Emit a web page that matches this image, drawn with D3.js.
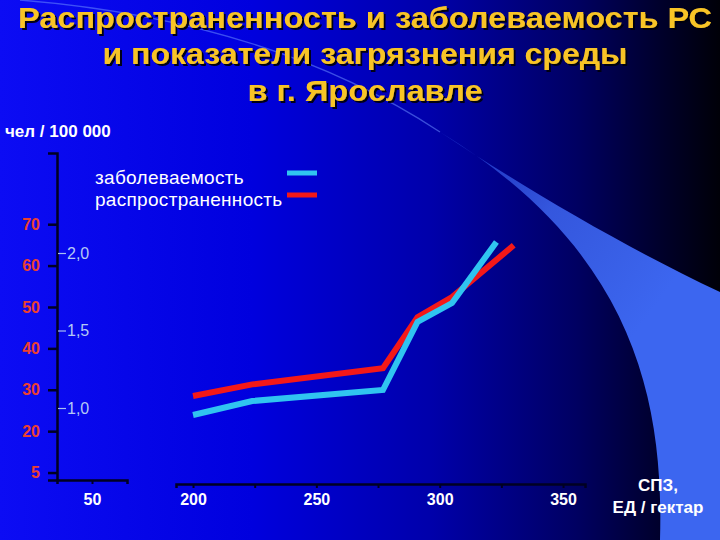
<!DOCTYPE html>
<html><head><meta charset="utf-8">
<script src="https://cdn.jsdelivr.net/npm/d3@7"></script>
<style>
html,body{margin:0;padding:0;background:#000;}
svg{display:block;font-family:Arial,"Liberation Sans",sans-serif;}
</style>
</head><body><svg id="c" width="720" height="540"></svg>
<script>
// ---- data ----
const titleLines = ["Распространенность и заболеваемость РС", "и показатели загрязнения среды", "в г. Ярославле"];
const yLeftTitle = "чел / 100 000";
const xTitle = ["СПЗ,", "ЕД / гектар"];
const seriesNames = ["заболеваемость", "распространенность"];
const yLeftTicks = [10, 20, 30, 40, 50, 60, 70];
const yLeftLabels = ["5", "20", "30", "40", "50", "60", "70"];
const yRightTicks = [1.0, 1.5, 2.0];
const xTicks = [200, 225, 250, 275, 300, 325, 350];
const xTickLabels = ["200", "", "250", "", "300", "", "350"];
const xBreakTicks = [50];
const spzPrevalence = [200, 224, 277, 291, 305, 330];
const prevalence = [28.5, 31.3, 35.2, 47.5, 52.4, 64.9];
const spzIncidence = [200, 224, 277, 291, 305, 323];
const incidence = [0.955, 1.045, 1.116, 1.555, 1.677, 2.071];

// ---- setup ----
const svg = d3.select("#c");
const defs = svg.append("defs");
const bg = defs.append("linearGradient").attr("id", "bg").attr("x1", 0).attr("x2", 1).attr("y1", 0).attr("y2", 0);
[[0, "#0c0cf4"], [0.35, "#0000de"], [0.6, "#0000aa"], [0.8, "#000062"], [0.92, "#00002a"], [1, "#000008"]]
  .forEach(([o, c]) => bg.append("stop").attr("offset", o).attr("stop-color", c));
const sw = defs.append("linearGradient").attr("id", "sw").attr("gradientUnits", "userSpaceOnUse")
  .attr("x1", 430).attr("y1", 130).attr("x2", 660).attr("y2", 300);
[[0, "#2c4ee0", 0.5], [0.5, "#3a60ea", 0.9], [1, "#3c66f0", 1]]
  .forEach(([o, c, a]) => sw.append("stop").attr("offset", o).attr("stop-color", c).attr("stop-opacity", a));
const sh = defs.append("filter").attr("id", "shadow").attr("x", "-5%").attr("y", "-20%").attr("width", "110%").attr("height", "150%");
sh.append("feDropShadow").attr("dx", 2).attr("dy", 2).attr("stdDeviation", 0.6)
  .attr("flood-color", "#000010").attr("flood-opacity", 0.95);

svg.append("rect").attr("width", 720).attr("height", 540).attr("fill", "url(#bg)");
// decorative swoosh
svg.append("path").attr("d", "M20,0 Q270,20 440,132").attr("fill", "none")
  .attr("stroke", "#6a8cff").attr("stroke-opacity", 0.55).attr("stroke-width", 1.3);
svg.append("path")
  .attr("d", "M440,132 C520,185 620,245 720,292 L720,540 L660,540 C664,400 634,250 440,132 Z")
  .attr("fill", "url(#sw)");

// ---- title ----
const tg = svg.append("g").attr("filter", "url(#shadow)");
const titleWidths = [694, 525, 235];
titleLines.forEach((t, i) => {
  tg.append("text").attr("x", 365).attr("y", [28, 64, 101][i]).attr("text-anchor", "middle")
    .attr("font-size", 30).attr("font-weight", "bold").attr("fill", "#f8c428")
    .attr("textLength", titleWidths[i]).attr("lengthAdjust", "spacingAndGlyphs").text(t);
});

svg.append("text").attr("x", 5).attr("y", 137).attr("font-size", 17).attr("font-weight", "bold")
  .attr("fill", "#fff").text(yLeftTitle);

// ---- scales ----
const yLeft = d3.scaleLinear().domain([8.2, 87.2]).range([480, 153]);
const yRight = d3.scaleLinear().domain([1, 2]).range([408, 253]);
const x = d3.scaleLinear().domain([193.1, 358.9]).range([176, 585]);
const xBreak = d3.scaleLinear().domain([40, 60]).range([57, 127]);
const axisColor = "#000022";
const ff = "Arial, 'Liberation Sans', sans-serif";

// left axis
const gl = svg.append("g").attr("transform", "translate(57,0)")
  .call(d3.axisLeft(yLeft).tickValues(yLeftTicks).tickSize(9).tickPadding(8)
    .tickFormat((d, i) => yLeftLabels[i]));
gl.select(".domain").attr("stroke", axisColor).attr("stroke-width", 2.5);
gl.selectAll(".tick line").attr("stroke", axisColor).attr("stroke-width", 2.5);
gl.selectAll(".tick text").attr("fill", "#ec4030").attr("font-size", 16).attr("font-weight", "bold")
  .attr("font-family", ff);

// secondary axis
const gr = svg.append("g").attr("transform", "translate(58,0)")
  .call(d3.axisRight(yRight).tickValues(yRightTicks).tickSize(8).tickPadding(1)
    .tickFormat(d => d3.format(".1f")(d).replace(".", ",")));
gr.select(".domain").remove();
gr.selectAll(".tick line").attr("stroke", "#a8c0f0").attr("stroke-width", 1.2);
gr.selectAll(".tick text").attr("fill", "#b4c8f4").attr("font-size", 16)
  .attr("font-family", ff);

// x axes
const gxb = svg.append("g").attr("transform", "translate(0,480)")
  .call(d3.axisBottom(xBreak).tickValues(xBreakTicks).tickSize(4).tickPadding(10).tickFormat(d3.format("d")));
const gx = svg.append("g").attr("transform", "translate(0,484)")
  .call(d3.axisBottom(x).tickValues(xTicks).tickSize(4).tickPadding(6).tickFormat((d, i) => xTickLabels[i]));
[gxb, gx].forEach(g => {
  g.select(".domain").attr("stroke", axisColor).attr("stroke-width", 2.5);
  g.selectAll(".tick line").attr("stroke", axisColor).attr("stroke-width", 2);
  g.selectAll(".tick text").attr("fill", "#fff").attr("font-size", 16).attr("font-weight", "bold")
    .attr("font-family", ff);
});

xTitle.forEach((t, i) => {
  svg.append("text").attr("x", 658).attr("y", [491, 513][i]).attr("text-anchor", "middle")
    .attr("font-size", 17).attr("font-weight", "bold").attr("fill", "#fff").text(t);
});

// ---- lines ----
const redC = "#f41818", cyanC = "#30c4f0";
const linePrev = d3.line().x((d, i) => x(spzPrevalence[i])).y(d => yLeft(d));
const lineInc = d3.line().x((d, i) => x(spzIncidence[i])).y(d => yRight(d));
svg.append("path").datum(prevalence).attr("d", linePrev).attr("fill", "none")
  .attr("stroke", redC).attr("stroke-width", 6);
svg.append("path").datum(incidence).attr("d", lineInc).attr("fill", "none")
  .attr("stroke", cyanC).attr("stroke-width", 6);

// ---- legend ----
const legColors = [cyanC, redC];
seriesNames.forEach((n, i) => {
  const y = 178 + i * 22;
  svg.append("text").attr("x", 95).attr("y", y + 6).attr("font-size", 19).attr("fill", "#fff")
    .attr("letter-spacing", 0.3).text(n);
  svg.append("line").attr("x1", 287).attr("x2", 317).attr("y1", y - 5).attr("y2", y - 5)
    .attr("stroke", legColors[i]).attr("stroke-width", 5);
});
</script>
</body></html>
